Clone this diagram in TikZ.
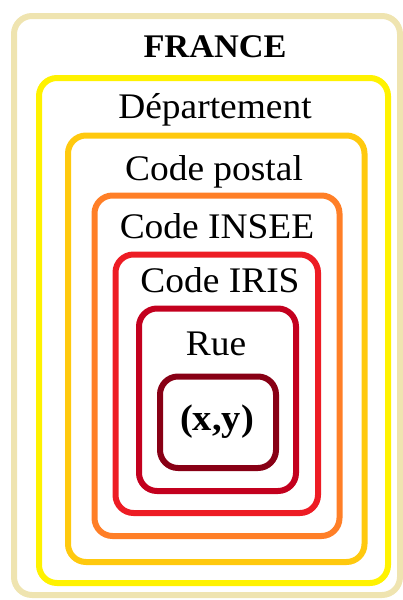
\documentclass[tikz,border=0pt]{standalone}
\usepackage{fontspec}
\setmainfont[FakeStretch=1.04]{Liberation Serif}
\definecolor{cbeige}{HTML}{EFE4B0}
\definecolor{cyellow}{HTML}{FFF200}
\definecolor{cgold}{HTML}{FFC90E}
\definecolor{corange}{HTML}{FF7F27}
\definecolor{cred}{HTML}{ED1C24}
\definecolor{ccrimson}{HTML}{C3001E}
\definecolor{cdark}{HTML}{880015}
\tikzset{
  zone/.style={draw=#1, line width=6pt, rounded corners=18pt, inner sep=0pt, outer sep=0pt},
  lbl/.style={anchor=base, inner sep=0pt, font=\fontsize{36}{40}\selectfont},
  blbl/.style={anchor=base, inner sep=0pt, font=\fontsize{#1}{40}\selectfont\bfseries}
}
\begin{document}
\begin{tikzpicture}[x=1pt,y=-1pt]
\useasboundingbox (0,0) rectangle (403,600);
\node[zone=cbeige, minimum width=386pt, minimum height=579pt] (france) at (207,305.5) {};
\node[zone=cyellow, minimum width=349pt, minimum height=505pt] (dep) at (213.5,330.5) {};
\node[zone=cgold, minimum width=296.5pt, minimum height=426.5pt] (cp) at (216.25,348.75) {};
\node[zone=corange, minimum width=245pt, minimum height=340.5pt] (insee) at (217,365.75) {};
\node[zone=cred, minimum width=202.5pt, minimum height=258.5pt] (iris) at (216.75,383.75) {};
\node[zone=ccrimson, minimum width=157pt, minimum height=182.5pt] (rue) at (217.5,399.75) {};
\node[zone=cdark, minimum width=116pt, minimum height=91.5pt] (xy) at (218,422.25) {};
\node[blbl=33] (tfrance) at (215,57) {FRANCE};
\node[lbl] (tdep) at (215,118) {Département};
\node[lbl] (tcp) at (214,180) {Code postal};
\node[lbl] (tinsee) at (217,238) {Code INSEE};
\node[lbl] (tiris) at (220,292) {Code IRIS};
\node[lbl] (true) at (216,355) {Rue};
\node[blbl=37] (txy) at (217,430) {(x,y)};
\end{tikzpicture}
\end{document}
